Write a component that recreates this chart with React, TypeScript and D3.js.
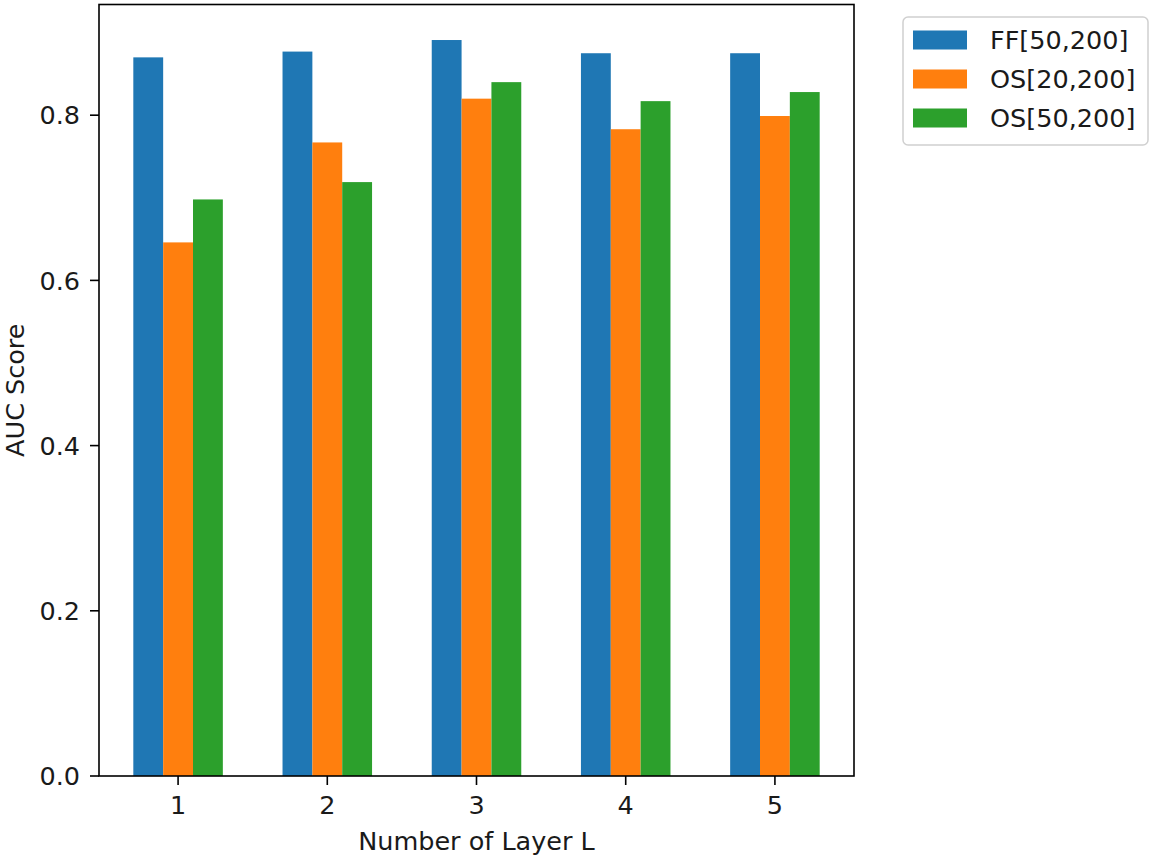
import React from "react";
import * as d3 from "d3";

const categories = [1, 2, 3, 4, 5];
const seriesNames = ["FF[50,200]", "OS[20,200]", "OS[50,200]"];
const ff50 = [0.870, 0.877, 0.891, 0.875, 0.875];
const os20 = [0.646, 0.767, 0.820, 0.783, 0.799];
const os50 = [0.698, 0.719, 0.840, 0.817, 0.828];
const yTicks = [0.0, 0.2, 0.4, 0.6, 0.8];
const colors = ["#1f77b4", "#ff7f0e", "#2ca02c"];

const W = 1155;
const H = 860;
const left = 99;
const right = 854;
const top = 4.5;
const bottom = 776;
const FONT = "'DejaVu Sans', sans-serif";
const FS = 25.5;

export default function App() {
  const series = [ff50, os20, os50];
  const x = d3.scaleLinear().domain([0.47, 5.53]).range([left, right]);
  const y = d3.scaleLinear().domain([0, 0.934]).range([bottom, top]);
  const barW = 0.2;
  const offsets = [-0.2, 0, 0.2];

  return (
    <svg
      width={W}
      height={H}
      style={{ position: "absolute", left: 0, top: 0, background: "#fff" }}
      fontFamily={FONT}
    >
      <rect x={0} y={0} width={W} height={H} fill="#fff" />
      {series.map((vals, si) =>
        vals.map((v, ci) => {
          const c = categories[ci] + offsets[si];
          const x0 = x(c - barW / 2);
          const x1 = x(c + barW / 2);
          return (
            <rect
              key={`${si}-${ci}`}
              x={x0}
              y={y(v)}
              width={x1 - x0}
              height={y(0) - y(v)}
              fill={colors[si]}
            />
          );
        })
      )}
      {/* spines */}
      <rect
        x={left}
        y={top}
        width={right - left}
        height={bottom - top}
        fill="none"
        stroke="#000"
        strokeWidth={1.6}
      />
      {/* y ticks */}
      {yTicks.map((t) => (
        <g key={t}>
          <line x1={left - 9} x2={left} y1={y(t)} y2={y(t)} stroke="#000" strokeWidth={1.6} />
          <text
            x={left - 19}
            y={y(t)}
            dy="0.36em"
            textAnchor="end"
            fontSize={FS}
            fill="#1a1a1a"
          >
            {t.toFixed(1)}
          </text>
        </g>
      ))}
      {/* x ticks */}
      {categories.map((c) => (
        <g key={c}>
          <line x1={x(c)} x2={x(c)} y1={bottom} y2={bottom + 9} stroke="#000" strokeWidth={1.6} />
          <text x={x(c)} y={814} textAnchor="middle" fontSize={FS} fill="#1a1a1a">
            {c}
          </text>
        </g>
      ))}
      <text x={(left + right) / 2} y={850} textAnchor="middle" fontSize={FS} fill="#1a1a1a">
        Number of Layer L
      </text>
      <text
        transform={`translate(23.5, ${(top + bottom) / 2}) rotate(-90)`}
        textAnchor="middle"
        fontSize={FS}
        fill="#1a1a1a"
      >
        AUC Score
      </text>
      {/* legend */}
      <rect
        x={903}
        y={17}
        width={245}
        height={128}
        rx={5}
        fill="#fff"
        stroke="#d0d0d0"
        strokeWidth={1.5}
      />
      {seriesNames.map((name, i) => {
        const cy = 40 + i * 39;
        return (
          <g key={name}>
            <rect x={913} y={cy - 9.5} width={54} height={19} fill={colors[i]} />
            <text x={990} y={cy} dy="0.36em" fontSize={FS} fill="#1a1a1a">
              {name}
            </text>
          </g>
        );
      })}
    </svg>
  );
}
